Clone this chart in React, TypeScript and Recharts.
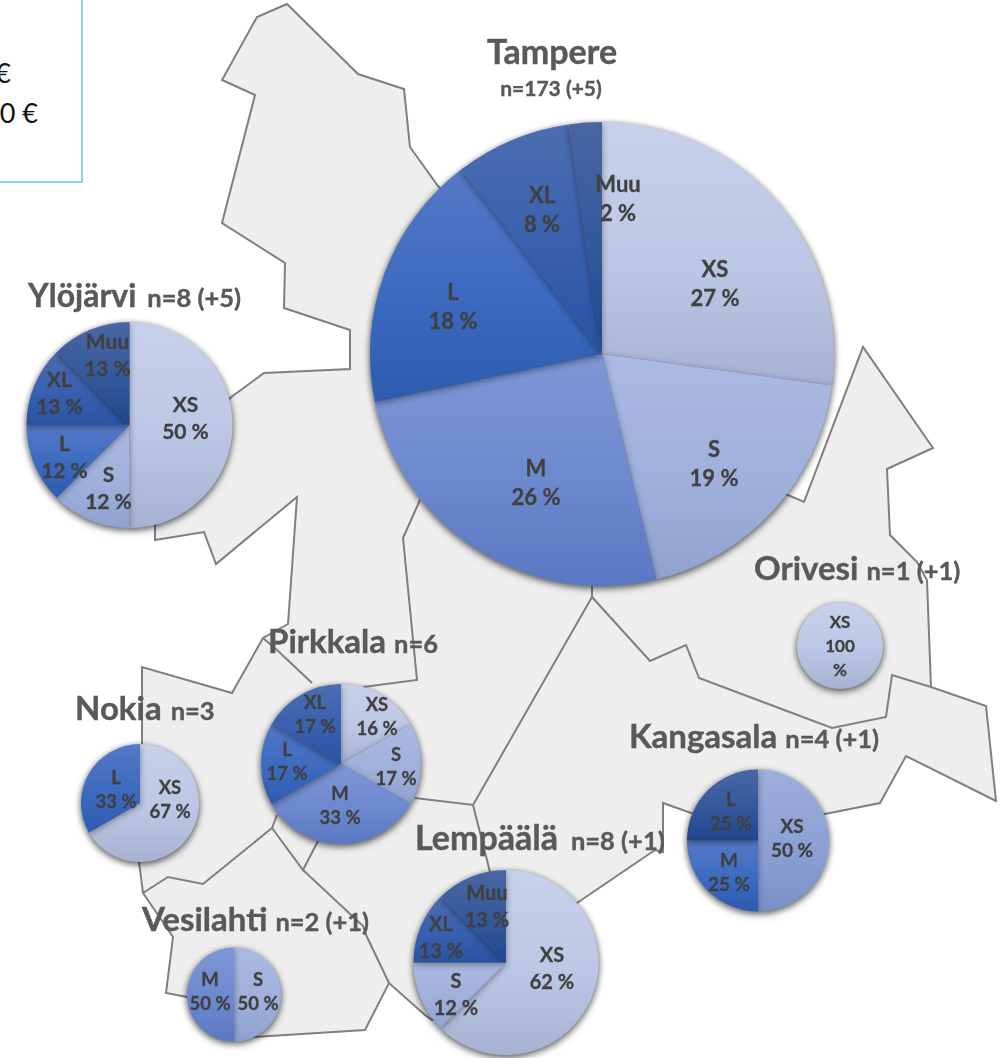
import React from 'react';
import { PieChart, Pie, Cell } from 'recharts';

// ---- data: answers per size class, per municipality (percent labels as printed)
const tampereNames = ['XS', 'S', 'M', 'L', 'XL', 'Muu'];
const tampereValues = [47, 33, 44, 31, 14, 4];
const tampereLabels = ['27 %', '19 %', '26 %', '18 %', '8 %', '2 %'];

const ylojarviNames = ['XS', 'S', 'L', 'XL', 'Muu'];
const ylojarviValues = [4, 1, 1, 1, 1];
const ylojarviLabels = ['50 %', '12 %', '12 %', '13 %', '13 %'];

const pirkkalaNames = ['XS', 'S', 'M', 'L', 'XL'];
const pirkkalaValues = [1, 1, 2, 1, 1];
const pirkkalaLabels = ['16 %', '17 %', '33 %', '17 %', '17 %'];

const nokiaNames = ['XS', 'L'];
const nokiaValues = [2, 1];
const nokiaLabels = ['67 %', '33 %'];

const vesilahtiNames = ['S', 'M'];
const vesilahtiValues = [1, 1];
const vesilahtiLabels = ['50 %', '50 %'];

const lempaalaNames = ['XS', 'S', 'XL', 'Muu'];
const lempaalaValues = [5, 1, 1, 1];
const lempaalaLabels = ['62 %', '12 %', '13 %', '13 %'];

const kangasalaNames = ['XS', 'M', 'L'];
const kangasalaValues = [2, 1, 1];
const kangasalaLabels = ['50 %', '25 %', '25 %'];

const orivesiNames = ['XS'];
const orivesiValues = [1];
const orivesiLabels = ['100 %'];

const toRows = (names: string[], values: number[], labels: string[]) =>
  names.map((name, i) => ({ name, value: values[i], text: labels[i] }));

// ---- layout of each pie (centre, radius, label type, gradients, label offsets)
const gradients: Record<string, string[]> = {
  XS: ['#C8D1EB', '#BCC7E5', '#A7B1D1'],
  S: ['#ABBAE2', '#9FB0DC', '#8EA2CF'],
  S2: ['#9DAEDB', '#8CA0D4', '#7B90C8'],
  M: ['#7F97D6', '#6C88CE', '#5A78C3'],
  L: ['#5579C5', '#3B6AC0', '#2E5BAE'],
  XL: ['#4C6DB1', '#3860AE', '#2953A4'],
  Muu: ['#4A66A3', '#34589C', '#20468E'],
};

const pies = [
  { key: 'tampere', rows: toRows(tampereNames, tampereValues, tampereLabels), cx: 602, cy: 354, r: 232, font: 22, lh: 29,
    colors: ['XS', 'S', 'M', 'L', 'XL', 'Muu'],
    offs: [[113, -71], [112, 109], [-66, 128], [-149, -48], [-60, -145], [16, -156]] },
  { key: 'ylojarvi', rows: toRows(ylojarviNames, ylojarviValues, ylojarviLabels), cx: 129.5, cy: 425, r: 103, font: 21, lh: 27,
    colors: ['XS', 'S', 'L', 'XL', 'Muu'],
    offs: [[56, -8], [-21, 62], [-65, 31], [-70, -33], [-22, -71]] },
  { key: 'pirkkala', rows: toRows(pirkkalaNames, pirkkalaValues, pirkkalaLabels), cx: 341, cy: 764, r: 80, font: 18.5, lh: 24,
    colors: ['XS', 'S', 'M', 'L', 'XL'],
    offs: [[36, -47], [55, 3], [-1, 42], [-54, -2], [-26, -49]] },
  { key: 'nokia', rows: toRows(nokiaNames, nokiaValues, nokiaLabels), cx: 140, cy: 803, r: 59, font: 18.5, lh: 24,
    colors: ['XS', 'L'],
    offs: [[30, -3], [-24, -13]] },
  { key: 'vesilahti', rows: toRows(vesilahtiNames, vesilahtiValues, vesilahtiLabels), cx: 234, cy: 994.5, r: 47, font: 18.5, lh: 24,
    colors: ['S', 'M'],
    offs: [[24, -3], [-24, -3]] },
  { key: 'lempaala', rows: toRows(lempaalaNames, lempaalaValues, lempaalaLabels), cx: 506, cy: 962.5, r: 92.5, font: 20, lh: 27,
    colors: ['XS', 'S', 'XL', 'Muu'],
    offs: [[46, 6], [-50, 32], [-65, -25], [-19, -56]] },
  { key: 'kangasala', rows: toRows(kangasalaNames, kangasalaValues, kangasalaLabels), cx: 758, cy: 840.5, r: 71, font: 19, lh: 24,
    colors: ['S2', 'L', 'Muu'],
    offs: [[34, -3], [-29, 31], [-27, -30]] },
  { key: 'orivesi', rows: toRows(orivesiNames, orivesiValues, orivesiLabels), cx: 840, cy: 646, r: 43, font: 17, lh: 24,
    colors: ['XS'],
    offs: [[0, 0]] },
];

// ---- titles
const titles = [
  { big: 'Ylöjärvi', small: 'n=8 (+5)', x: 28, y: 307, bigSize: 32, smallSize: 25.5, gap: 11 },
  { big: 'Pirkkala', small: 'n=6', x: 268, y: 653, bigSize: 33, smallSize: 25.5, gap: 8 },
  { big: 'Nokia', small: 'n=3', x: 75, y: 720, bigSize: 33, smallSize: 25.5, gap: 9 },
  { big: 'Vesilahti', small: 'n=2 (+1)', x: 142, y: 931, bigSize: 33, smallSize: 25.5, gap: 8 },
  { big: 'Lempäälä', small: 'n=8 (+1)', x: 415, y: 850, bigSize: 34, smallSize: 25.5, gap: 13 },
  { big: 'Kangasala', small: 'n=4 (+1)', x: 629, y: 748, bigSize: 33, smallSize: 25.5, gap: 8 },
  { big: 'Orivesi', small: 'n=1 (+1)', x: 754, y: 580, bigSize: 33, smallSize: 25.5, gap: 8 },
];

// ---- backdrop map
const mapOutline = '287,4 358,74 404,89 410,147 438,186 783,493 804,502 863,347 933,448 887,469 890,535 917,562 927,580 931,687 986,706 996,801 906,756 880,803 825,814 691,813 663,803 663,852 655,850 577,903 432,1020 425,1015 389,983 365,1030 253,1037 187,997 166,993 173,937 143,893 139,862 142,742 142,667 232,693 263,638 288,624 297,497 216,564 204,532 155,540 155,525 230,398 264,373 350,369 350,330 284,308 285,263 222,223 255,95 222,80 257,17';
const mapBorders = [
  '592,586 592,597 650,661 686,645 699,678 832,728 886,717 892,675 931,687',
  '592,597 473,805 415,798',
  '473,805 490,872',
  '420,500 403,538 417,680 363,687',
  '312,683 277,650 263,638',
  '143,893 168,877 203,884 272,828 277,815',
  '272,828 303,870 318,841',
  '303,870 363,926 367,937 389,983',
];

const FONT = 'Lato, "Open Sans", sans-serif';

const makeLabel = (pie: (typeof pies)[number]) => (p: any) => {
  const row = pie.rows[p.index];
  const [dx, dy] = pie.offs[p.index];
  const x = p.cx + dx;
  const y = p.cy + dy - 1;
  const lines = row.text === '100 %' ? [row.name, '100', '%'] : [row.name, row.text];
  const top = y - ((lines.length - 1) * pie.lh) / 2;
  return (
    <text x={x} y={top} textAnchor="middle" dominantBaseline="central" fontFamily={FONT} fontWeight={700} fontSize={pie.font} fill="#404040" stroke="#404040" strokeWidth={0.3} style={{ filter: 'blur(0.5px)' }}>
      {lines.map((t, i) => (
        <tspan key={i} x={x} y={top + i * pie.lh}>{t}</tspan>
      ))}
    </text>
  );
};

export default function App() {
  return (
    <div style={{ position: 'absolute', left: 0, top: 0, width: 1005, height: 1058, overflow: 'hidden', background: '#fff' }}>
      <style>{`.map-pie { filter: drop-shadow(0px 2px 3px rgba(0,0,0,0.38)); }`}</style>
      <PieChart width={1005} height={1058} margin={{ top: 0, right: 0, bottom: 0, left: 0 }}>
        <defs>
          {Object.entries(gradients).map(([k, c]) => (
            <linearGradient key={k} id={`grad-${k}`} x1="0" y1="0" x2="0" y2="1">
              <stop offset="0%" stopColor={c[0]} />
              <stop offset="55%" stopColor={c[1]} />
              <stop offset="100%" stopColor={c[2]} />
            </linearGradient>
          ))}
        </defs>

        <polygon points={mapOutline} fill="#EEEEEE" stroke="#7F7F7F" strokeWidth={2} strokeLinejoin="miter" />
        {mapBorders.map((pts, i) => (
          <polyline key={i} points={pts} fill="none" stroke="#7F7F7F" strokeWidth={2} />
        ))}

        <rect x={-10} y={-10} width={92} height={192} fill="#fff" stroke="#5CBFE0" strokeWidth={1.4} />
        <text x={11} y={83} textAnchor="end" fontFamily={FONT} fontSize={27} fill="#111">€</text>
        <text x={38} y={123} textAnchor="end" fontFamily={FONT} fontSize={27} fill="#111">0 €</text>

        {pies.map((pie) => (
          <Pie
            key={pie.key}
            className="map-pie"
            data={pie.rows}
            dataKey="value"
            nameKey="name"
            cx={pie.cx}
            cy={pie.cy}
            innerRadius={0}
            outerRadius={pie.r}
            startAngle={90}
            endAngle={-270}
            stroke="none"
            label={makeLabel(pie)}
            labelLine={false}
            isAnimationActive={false}
          >
            {pie.rows.map((row, i) => (
              <Cell key={row.name} fill={`url(#grad-${pie.colors[i]})`} stroke="none" />
            ))}
          </Pie>
        ))}

        <g fontFamily={FONT} fontWeight={700} fill="#595959" stroke="#595959" strokeWidth={0.4} style={{ filter: 'blur(0.5px)' }}>
          <text x={552} y={64} textAnchor="middle" fontSize={34}>Tampere</text>
          <text x={551} y={96} textAnchor="middle" fontSize={21}>n=173 (+5)</text>
          {titles.map((t) => (
            <text key={t.big} x={t.x} y={t.y}>
              <tspan fontSize={t.bigSize}>{t.big}</tspan>
              <tspan fontSize={t.smallSize} dx={t.gap}>{t.small}</tspan>
            </text>
          ))}
        </g>
      </PieChart>
    </div>
  );
}
